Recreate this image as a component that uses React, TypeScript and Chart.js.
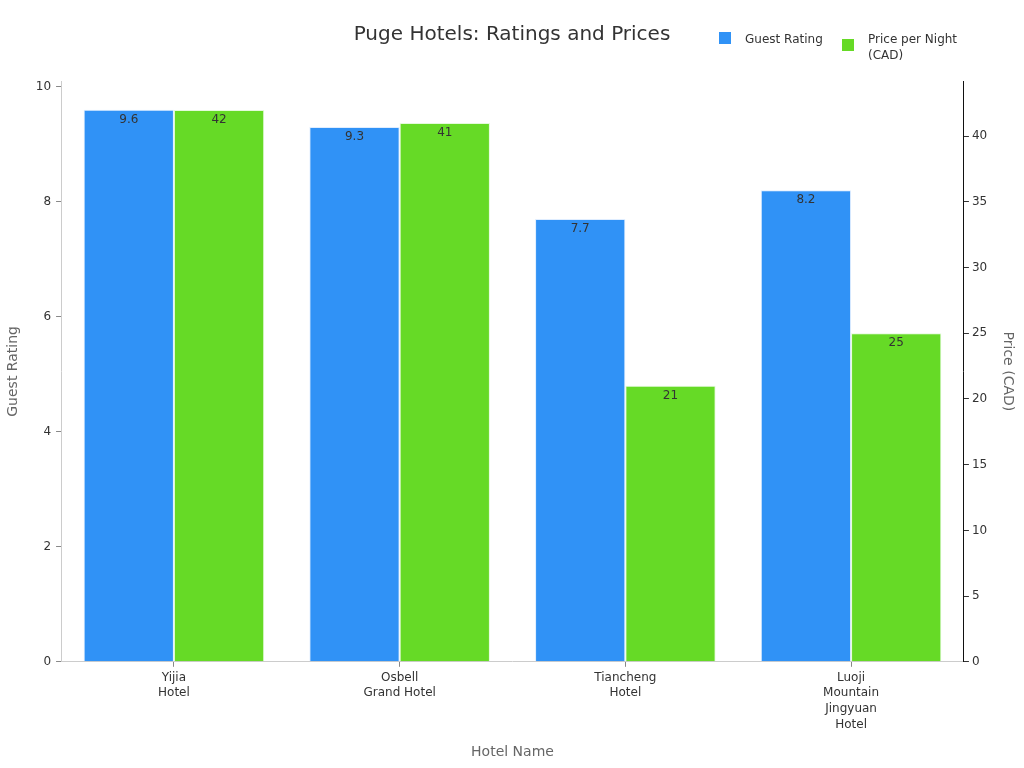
import React, { useEffect, useRef } from "react";
import { Chart, registerables } from "chart.js";

Chart.register(...registerables);

const hotels: string[][] = [
  ["Yijia", "Hotel"],
  ["Osbell", "Grand Hotel"],
  ["Tiancheng", "Hotel"],
  ["Luoji", "Mountain", "Jingyuan", "Hotel"],
];
const guestRating: number[] = [9.6, 9.3, 7.7, 8.2];
const pricePerNight: number[] = [42, 41, 21, 25];
const seriesNames: string[][] = [["Guest Rating"], ["Price per Night", "(CAD)"]];
const ratingTicks: number[] = [0, 2, 4, 6, 8, 10];
const priceTicks: number[] = [0, 5, 10, 15, 20, 25, 30, 35, 40];
const titleText = "Puge Hotels: Ratings and Prices";

const BLUE = "rgb(48,146,246)";
const GREEN = "rgb(102,218,38)";
const FONT = "'DejaVu Sans', sans-serif";

const overlayPlugin = {
  id: "overlay",
  afterDatasetsDraw(chart: any) {
    const ctx = chart.ctx;
    ctx.save();
    ctx.font = `12px ${FONT}`;
    ctx.fillStyle = "#333";
    ctx.textAlign = "center";
    ctx.textBaseline = "middle";
    chart.data.datasets.forEach((ds: any, di: number) => {
      const meta = chart.getDatasetMeta(di);
      meta.data.forEach((bar: any, i: number) => {
        ctx.fillText(String(ds.data[i]), bar.x, bar.y + 10);
      });
    });
    // title
    ctx.font = `20px ${FONT}`;
    ctx.fillStyle = "#333";
    ctx.fillText(titleText, 512, 35);
    // legend
    const colors = [BLUE, GREEN];
    const lx = [719, 842];
    const ly = [38, 45];
    ctx.font = `12px ${FONT}`;
    ctx.textAlign = "left";
    seriesNames.forEach((lines, k) => {
      ctx.fillStyle = colors[k];
      ctx.fillRect(lx[k], ly[k] - 6, 12, 12);
      ctx.fillStyle = "#333";
      lines.forEach((ln, j) => {
        ctx.fillText(ln, lx[k] + 26, 39.5 + j * 16);
      });
    });
    ctx.restore();
  },
};

export default function App() {
  const ref = useRef<HTMLCanvasElement>(null);
  useEffect(() => {
    if (!ref.current) return;
    const chart = new Chart(ref.current, {
      type: "bar",
      data: {
        labels: hotels,
        datasets: [
          {
            label: "Guest Rating",
            data: guestRating,
            backgroundColor: BLUE,
            borderColor: "rgba(220,235,255,0.9)",
            borderWidth: 1,
            yAxisID: "y",
          },
          {
            label: "Price per Night (CAD)",
            data: pricePerNight,
            backgroundColor: GREEN,
            borderColor: "rgba(225,250,215,0.9)",
            borderWidth: 1,
            yAxisID: "y1",
          },
        ],
      },
      options: {
        animation: false,
        responsive: false,
        devicePixelRatio: 1,
        layout: { padding: { top: 81, left: 5, right: 6, bottom: 7 } },
        datasets: { bar: { barPercentage: 1, categoryPercentage: 0.8 } } as any,
        plugins: {
          legend: { display: false },
          title: { display: false },
          tooltip: { enabled: false },
        },
        scales: {
          x: {
            grid: {
              display: true,
              drawOnChartArea: false,
              drawTicks: true,
              tickLength: 5,
              offset: false,
              color: "#888",
            },
            border: { display: true, color: "#ccc" },
            ticks: {
              color: "#333",
              font: { family: FONT, size: 12, lineHeight: 1.3 },
              maxRotation: 0,
              padding: 3,
            },
            title: {
              display: true,
              text: "Hotel Name",
              color: "#666",
              font: { family: FONT, size: 14 },
              padding: { top: 9, bottom: 0 },
            },
          },
          y: {
            position: "left",
            min: 0,
            max: 10.1,
            afterBuildTicks: (scale: any) => {
              scale.ticks = ratingTicks.map((v) => ({ value: v }));
            },
            ticks: { color: "#333", font: { family: FONT, size: 12 }, padding: 5 },
            grid: { display: true, drawOnChartArea: false, drawTicks: true, tickLength: 5, color: "#888" },
            border: { display: true, color: "#ccc" },
            title: {
              display: true,
              text: "Guest Rating",
              color: "#666",
              font: { family: FONT, size: 14 },
              padding: { top: 0, bottom: 9 },
            },
          },
          y1: {
            position: "right",
            min: 0,
            max: 44.2,
            afterBuildTicks: (scale: any) => {
              scale.ticks = priceTicks.map((v) => ({ value: v }));
            },
            ticks: { color: "#333", font: { family: FONT, size: 12 }, padding: 3 },
            grid: { display: true, drawOnChartArea: false, drawTicks: true, tickLength: 5, color: "#333" },
            border: { display: true, color: "#111" },
            title: {
              display: true,
              text: "Price (CAD)",
              color: "#666",
              font: { family: FONT, size: 14 },
              padding: { top: 2, bottom: 9 },
            },
          },
        },
      },
      plugins: [overlayPlugin],
    });
    return () => chart.destroy();
  }, []);
  return (
    <div style={{ position: "absolute", left: 0, top: 0, width: 1024, height: 768, background: "#fff" }}>
      <canvas ref={ref} width={1024} height={768} style={{ width: 1024, height: 768 }} />
    </div>
  );
}
